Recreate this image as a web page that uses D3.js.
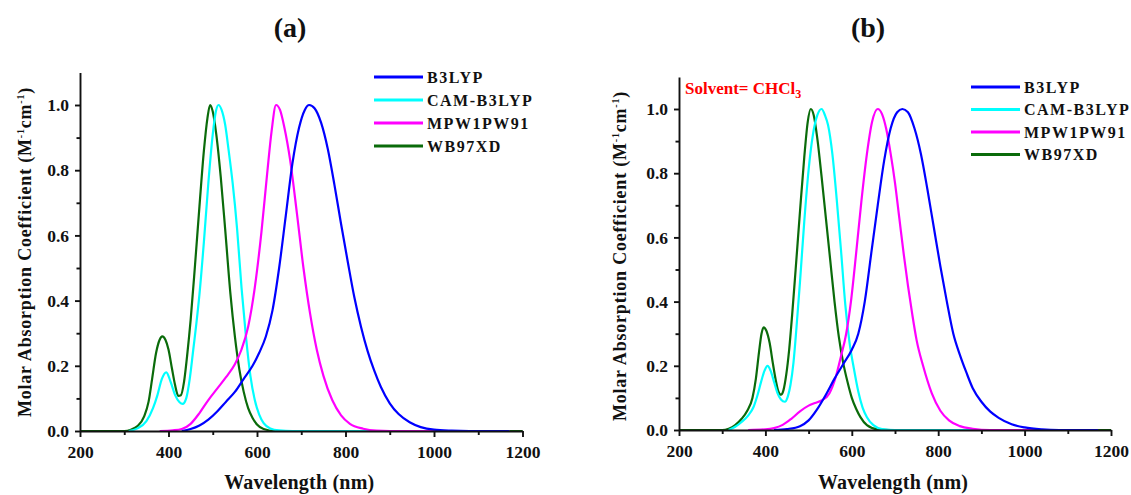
<!DOCTYPE html>
<html>
<head>
<meta charset="utf-8">
<script src="https://cdn.jsdelivr.net/npm/d3@7"></script>
<style>
  body { margin: 0; background: #fff; }
  svg { display: block; }
  text { font-family: "Liberation Serif", "Times New Roman", serif; font-weight: bold; fill: #111; }
</style>
</head>
<body>
<svg id="chart" width="1131" height="495"></svg>
<script>
// tick labels
const xTicks = [200, 400, 600, 800, 1000, 1200];
const xMinor = [300, 500, 700, 900, 1100];
const yTicks = [0, 0.2, 0.4, 0.6, 0.8, 1.0];
const yMinor = [0.1, 0.3, 0.5, 0.7, 0.9];

const methods = ["B3LYP", "CAM-B3LYP", "MPW1PW91", "WB97XD"];
const colors = ["#0000ff", "#00ffff", "#ff00ff", "#0a6b0a"];

// panel (a): [wavelength nm, normalized absorption]
const b3lypA = [[430,0],[450,0.006],[470,0.017],[490,0.035],[510,0.06],[530,0.09],[550,0.12],[570,0.16],[590,0.2],[605,0.24],[620,0.29],[635,0.37],[650,0.5],[665,0.66],[680,0.82],[695,0.93],[708,0.985],[718,1.0],[730,0.99],[745,0.945],[760,0.865],[775,0.755],[790,0.635],[805,0.52],[820,0.41],[835,0.32],[850,0.245],[865,0.185],[880,0.135],[900,0.085],[920,0.052],[945,0.027],[970,0.012],[1000,0.004],[1040,0.001],[1080,0],[1170,0]];
const camA = [[310,0],[330,0.008],[350,0.03],[365,0.07],[375,0.11],[385,0.16],[395,0.18],[405,0.15],[415,0.11],[425,0.088],[432,0.083],[440,0.1],[448,0.16],[456,0.25],[463,0.33],[470,0.42],[480,0.58],[490,0.76],[500,0.91],[507,0.98],[513,1.0],[520,0.985],[528,0.94],[536,0.86],[545,0.76],[555,0.62],[565,0.44],[575,0.29],[585,0.17],[595,0.095],[605,0.05],[615,0.024],[630,0.008],[650,0.002],[680,0],[1170,0]];
const mpwA = [[380,0],[410,0.002],[430,0.006],[450,0.022],[470,0.055],[490,0.095],[510,0.13],[530,0.165],[550,0.205],[565,0.25],[580,0.32],[595,0.44],[610,0.61],[623,0.79],[633,0.92],[643,1.0],[652,0.985],[662,0.93],[675,0.83],[690,0.67],[705,0.5],[720,0.36],[735,0.25],[750,0.17],[770,0.095],[790,0.048],[810,0.022],[840,0.007],[870,0.001],[900,0],[1170,0]];
const wbA = [[200,0],[300,0],[315,0.004],[330,0.015],[345,0.045],[355,0.09],[363,0.16],[372,0.24],[380,0.28],[386,0.29],[393,0.28],[400,0.25],[408,0.19],[415,0.14],[422,0.108],[428,0.11],[435,0.15],[442,0.23],[450,0.34],[460,0.51],[470,0.69],[480,0.86],[488,0.96],[494,1.0],[500,0.98],[508,0.91],[518,0.78],[528,0.62],[540,0.42],[550,0.29],[560,0.19],[570,0.12],[580,0.07],[590,0.04],[600,0.02],[615,0.006],[640,0],[1200,0]];

// panel (b): solvent CHCl3
const b3lypB = [[420,0],[450,0.003],[480,0.012],[500,0.03],[520,0.065],[540,0.11],[560,0.16],[580,0.205],[600,0.25],[615,0.3],[630,0.4],[645,0.55],[660,0.7],[675,0.84],[690,0.94],[705,0.99],[717,1.0],[730,0.99],[745,0.94],[760,0.86],[775,0.75],[790,0.63],[805,0.51],[820,0.4],[835,0.3],[850,0.235],[865,0.18],[880,0.13],[900,0.088],[920,0.058],[940,0.038],[970,0.018],[1000,0.008],[1040,0.002],[1080,0],[1170,0]];
const camB = [[315,0],[330,0.01],[345,0.025],[360,0.045],[372,0.07],[382,0.11],[390,0.15],[398,0.185],[405,0.2],[412,0.185],[420,0.15],[428,0.115],[436,0.095],[445,0.088],[452,0.105],[458,0.14],[465,0.21],[472,0.32],[480,0.46],[490,0.65],[500,0.81],[510,0.92],[520,0.98],[530,1.0],[538,0.98],[545,0.95],[555,0.86],[565,0.72],[575,0.56],[585,0.39],[595,0.27],[605,0.19],[615,0.12],[625,0.07],[635,0.04],[650,0.015],[670,0.003],[700,0],[1170,0]];
const mpwB = [[360,0],[400,0.002],[420,0.006],[440,0.016],[460,0.035],[480,0.058],[500,0.076],[515,0.084],[530,0.092],[548,0.114],[563,0.166],[575,0.23],[587,0.3],[598,0.4],[610,0.55],[622,0.71],[635,0.86],[647,0.96],[660,1.0],[670,0.984],[680,0.936],[690,0.86],[700,0.77],[710,0.66],[720,0.55],[730,0.45],[740,0.36],[750,0.28],[765,0.2],[785,0.115],[805,0.06],[825,0.03],[850,0.012],[880,0.004],[920,0],[1170,0]];
const wbB = [[200,0],[300,0],[315,0.004],[330,0.015],[345,0.035],[358,0.06],[370,0.1],[378,0.16],[385,0.24],[391,0.3],[396,0.32],[402,0.31],[410,0.27],[417,0.21],[424,0.155],[430,0.12],[436,0.11],[442,0.125],[448,0.17],[455,0.25],[462,0.36],[470,0.5],[480,0.68],[490,0.85],[498,0.96],[505,1.0],[512,0.98],[520,0.91],[530,0.79],[540,0.66],[550,0.53],[560,0.4],[570,0.29],[580,0.21],[590,0.15],[600,0.1],[610,0.066],[620,0.04],[635,0.015],[660,0.002],[690,0],[1200,0]];

const svg = d3.select("#chart");
svg.append("rect").attr("width", 1131).attr("height", 495).attr("fill", "#fff");

function drawPanel(p) {
  const x = d3.scaleLinear().domain([200, 1200]).range([p.left, p.right]);
  const y = d3.scaleLinear().domain([0, 1.1]).range([p.bottom, p.bottom - 1.1 * p.unit]);
  const g = svg.append("g");

  // curves (green first, blue on top at the baseline)
  const line = d3.line().x(d => x(d[0])).y(d => y(d[1])).curve(d3.curveMonotoneX);
  const order = [3, 1, 2, 0];
  order.forEach(i => {
    g.append("path")
      .attr("d", line(p.series[i]))
      .attr("fill", "none")
      .attr("stroke", colors[i])
      .attr("stroke-width", 2.2)
      .attr("stroke-linejoin", "round");
  });

  // axes
  g.append("g").attr("transform", `translate(0,${p.bottom})`)
    .call(d3.axisBottom(x).tickValues(xTicks).tickSize(6).tickSizeOuter(0).tickPadding(9).tickFormat(d3.format("d")));
  g.append("g").attr("transform", `translate(0,${p.bottom})`)
    .call(d3.axisBottom(x).tickValues(xMinor).tickSize(4).tickFormat(""))
    .select(".domain").remove();
  g.append("g").attr("transform", `translate(${p.left},0)`)
    .call(d3.axisLeft(y).tickValues(yTicks).tickSize(5).tickSizeOuter(0).tickPadding(6).tickFormat(d3.format(".1f")));
  g.append("g").attr("transform", `translate(${p.left},0)`)
    .call(d3.axisLeft(y).tickValues(yMinor).tickSize(3.5).tickFormat(""))
    .select(".domain").remove();
  g.selectAll(".domain, .tick line").attr("stroke", "#111").attr("stroke-width", 1.9);
  g.selectAll(".tick text").attr("font-size", 17.5).attr("font-family", null).attr("fill", "#111");

  // titles and axis labels
  g.append("text").attr("x", p.titleX).attr("y", 37)
    .attr("text-anchor", "middle").attr("font-size", 28).text(p.title);
  g.append("text").attr("x", (p.left + p.right) / 2 - 2).attr("y", 489)
    .attr("text-anchor", "middle").attr("font-size", 20).attr("letter-spacing", 0.2)
    .text("Wavelength (nm)");
  const yl = g.append("text")
    .attr("transform", `translate(${p.ylabX},${p.ylabY}) rotate(-90)`)
    .attr("text-anchor", "middle").attr("font-size", 18).attr("letter-spacing", 0.8);
  yl.append("tspan").text("Molar Absorption Coefficient (M");
  yl.append("tspan").attr("font-size", 10).attr("dy", -7).text("-1");
  yl.append("tspan").attr("dy", 7).text("cm");
  yl.append("tspan").attr("font-size", 10).attr("dy", -7).text("-1");
  yl.append("tspan").attr("dy", 7).text(")");

  // legend
  methods.forEach((m, i) => {
    const ly = p.legY + i * p.legStep;
    g.append("line").attr("x1", p.legX).attr("x2", p.legX + 49)
      .attr("y1", ly).attr("y2", ly)
      .attr("stroke", colors[i]).attr("stroke-width", 2.8);
    g.append("text").attr("x", p.legX + 53).attr("y", ly)
      .attr("dy", "0.36em").attr("font-size", 16).attr("letter-spacing", 1.5).text(m);
  });
  return g;
}

drawPanel({
  left: 80, right: 522.5, bottom: 431, unit: 326, title: "(a)", titleX: 290,
  ylabX: 31, ylabY: 252, legX: 374, legY: 77, legStep: 23,
  series: [b3lypA, camA, mpwA, wbA]
});

const gb = drawPanel({
  left: 679, right: 1111, bottom: 430, unit: 321, title: "(b)", titleX: 868,
  ylabX: 626, ylabY: 256, legX: 971, legY: 87, legStep: 22.5,
  series: [b3lypB, camB, mpwB, wbB]
});

const solv = gb.append("text").attr("x", 685).attr("y", 94)
  .attr("font-size", 17).style("fill", "#f00");
solv.append("tspan").text("Solvent= CHCl");
solv.append("tspan").attr("font-size", 12).attr("dy", 4).text("3");
</script>
</body>
</html>
